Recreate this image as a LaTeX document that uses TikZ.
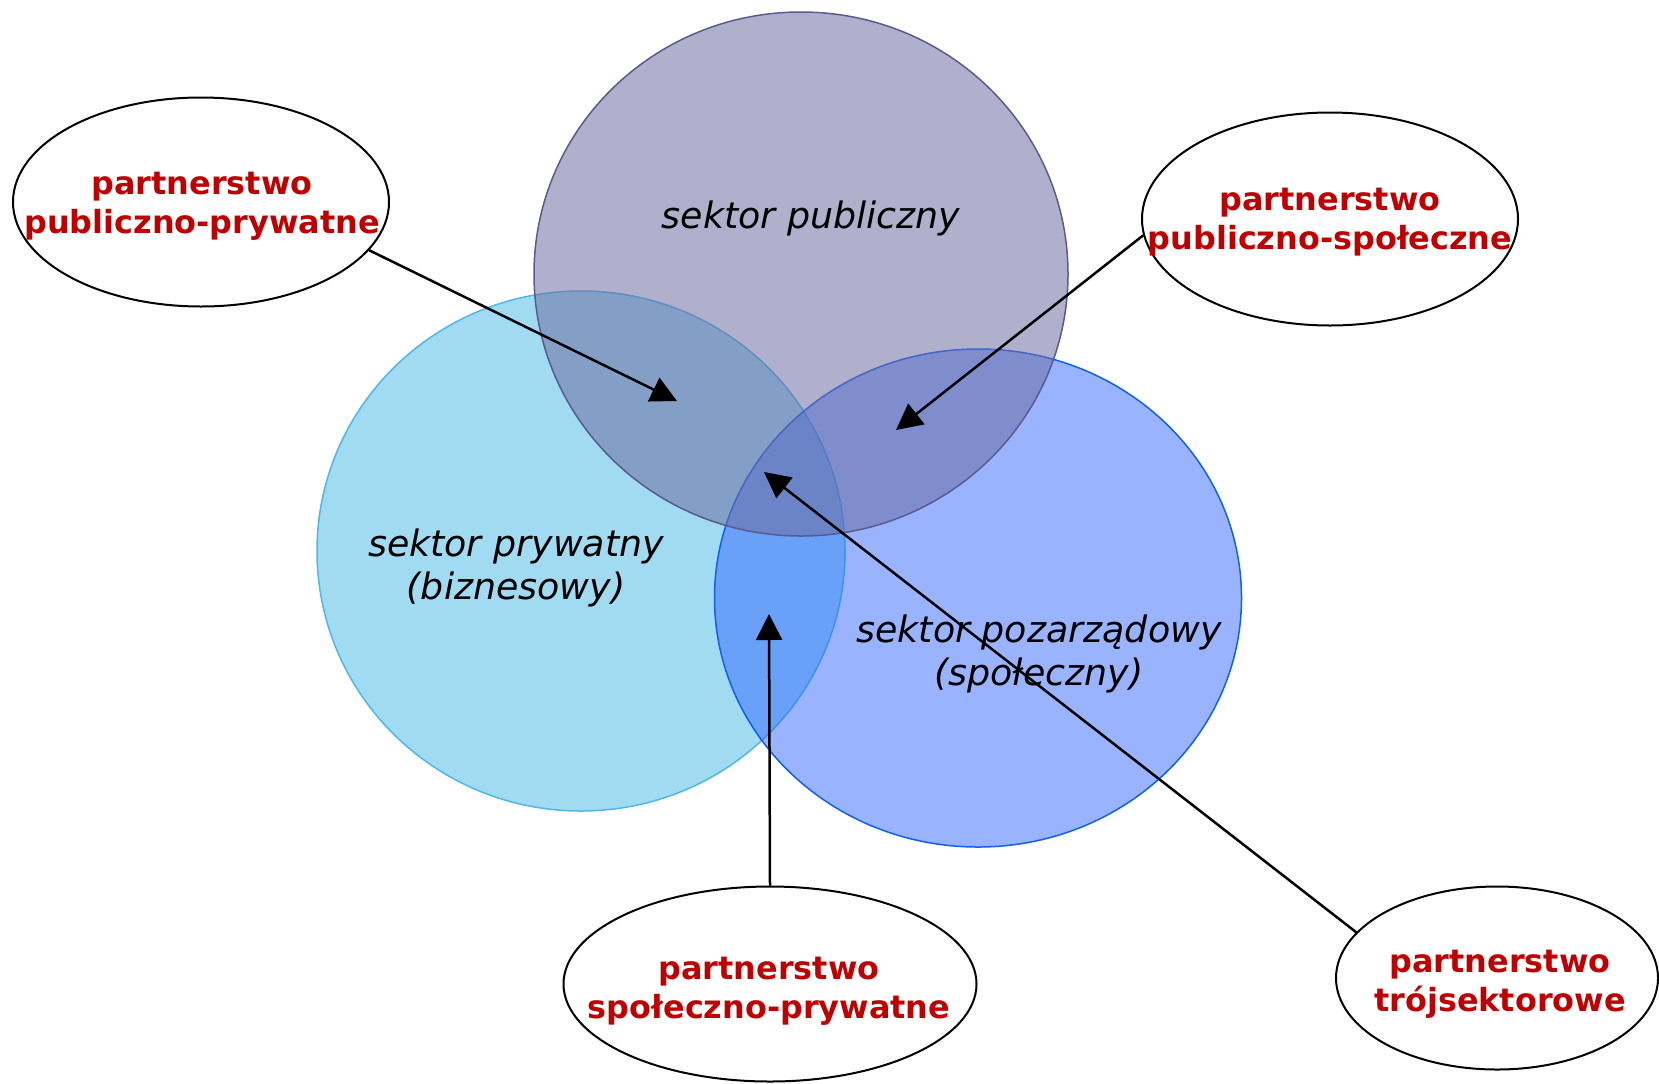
\documentclass[tikz,border=0pt]{standalone}
\usepackage{fontspec}
\setmainfont{DejaVu Sans}
\usetikzlibrary{shapes.geometric,arrows.meta}
\definecolor{privfill}{RGB}{160,219,242}
\definecolor{privdraw}{RGB}{79,184,230}
\definecolor{ngofill}{RGB}{51,103,255}
\definecolor{ngodraw}{RGB}{16,96,240}
\definecolor{pubfill}{RGB}{109,109,161}
\definecolor{pubdraw}{RGB}{90,90,145}
\definecolor{partred}{RGB}{192,0,0}
\begin{document}
\begin{tikzpicture}[x=1bp,y=-1bp,
  sector/.style={ellipse,inner sep=0pt,line width=1.5bp},
  callout/.style={ellipse,draw=black,line width=2bp,inner sep=0pt,fill=white},
  ptext/.style={text=partred,font=\fontsize{32}{39}\selectfont\bfseries,align=center},
  stext/.style={font=\fontsize{36.5}{43.5}\selectfont\itshape,align=center},
  conn/.style={line width=2.5bp,-{Triangle[length=26bp,width=26bp]}}]
\useasboundingbox (0,0) rectangle (1659,1083);
% sectors
\node[sector,minimum width=528bp,minimum height=520bp,fill=privfill,draw=privdraw] (priv) at (581,551) {};
\node[sector,minimum width=527bp,minimum height=498bp,fill=ngofill,fill opacity=0.5,draw=ngodraw] (ngo) at (978,598) {};
\node[sector,minimum width=534bp,minimum height=524bp,fill=pubfill,fill opacity=0.54,draw=pubdraw] (pub) at (801,274) {};
\node[stext] (tpub) at (811,218) {sektor publiczny};
\node[stext] (tpriv) at (516,568) {sektor prywatny\\(biznesowy)};
\node[stext] (tngo) at (1039,654) {sektor pozarządowy\\(społeczny)};
% callouts
\node[callout,minimum width=376bp,minimum height=209bp] (e1) at (201,202) {};
\node[ptext] (t1) at (202,206) {partnerstwo\\publiczno-prywatne};
\node[callout,minimum width=376bp,minimum height=213bp] (e2) at (1330,219) {};
\node[ptext] (t2) at (1330,222) {partnerstwo\\publiczno-społeczne};
\node[callout,minimum width=413bp,minimum height=195bp] (e3) at (770,984) {};
\node[ptext] (t3) at (769,991) {partnerstwo\\społeczno-prywatne};
\node[callout,minimum width=322bp,minimum height=183bp] (e4) at (1497,978) {};
\node[ptext] (t4) at (1500,984) {partnerstwo\\trójsektorowe};
% arrow tips
\coordinate (a1) at (677,401);
\coordinate (a2) at (896,430);
\coordinate (a3) at (769,614);
\coordinate (a4) at (764,472);
\draw[conn] (e1.-16) -- (a1);
\draw[conn] (e2.185) -- (a2);
\draw[conn] (e3.north) -- (a3);
\draw[conn] (e4.162) -- (a4);
\end{tikzpicture}
\end{document}
